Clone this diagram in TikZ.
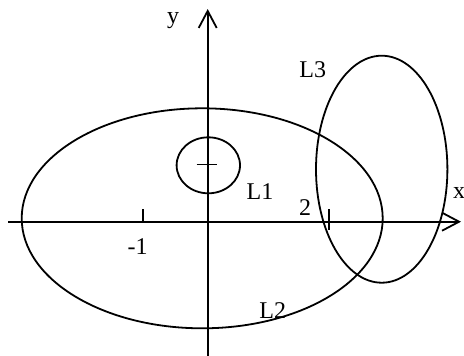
\documentclass[tikz,border=0pt]{standalone}
\usepackage{fontspec}
\setmainfont{Liberation Serif}
\usetikzlibrary{arrows.meta}
\tikzset{
  axis/.style={line width=0.9pt, -{Straight Barb[length=8.5pt,width=9pt,line width=0.9pt]}},
  curve/.style={line width=0.9pt},
  tick/.style={line width=0.9pt},
  lbl/.style={inner sep=0pt, font=\fontsize{12}{14}\selectfont},
}
\begin{document}
\begin{tikzpicture}[x=0.5pt, y=-0.5pt]
    \useasboundingbox (0,0) rectangle (464,355);

    % axes
    \coordinate (xs) at (8,221.7);
    \coordinate (xe) at (461,221.7);
    \coordinate (ys) at (207.7,356);
    \coordinate (ye) at (207.7,9);
    \draw[axis] (xs) -- (xe);
    \draw[axis] (ys) -- (ye);

    % ticks
    \draw[tick] (142.7,209) -- (142.7,221.7);
    \draw[tick] (329.3,209) -- (329.3,230);
    \draw[tick] (196.7,164.5) -- (217.3,164.5);

    % curves
    \draw[curve] (208.3,165.3) ellipse [x radius=31.7, y radius=28];
    \draw[curve] (202.2,218.3) ellipse [x radius=180.5, y radius=110];
    \draw[curve] (381.7,169.2) ellipse [x radius=65.7, y radius=113.5];

    % labels
    \node[lbl] (ylbl) at (173,21) {y};
    \node[lbl] (xlbl) at (459,193) {x};
    \node[lbl] (l1) at (260,191.7) {L1};
    \node[lbl] (l2) at (272.7,310.7) {L2};
    \node[lbl] (l3) at (312.7,70) {L3};
    \node[lbl] (two) at (305,208) {2};
    \node[lbl] (mone) at (137.7,246.7) {-1};
\end{tikzpicture}
\end{document}
